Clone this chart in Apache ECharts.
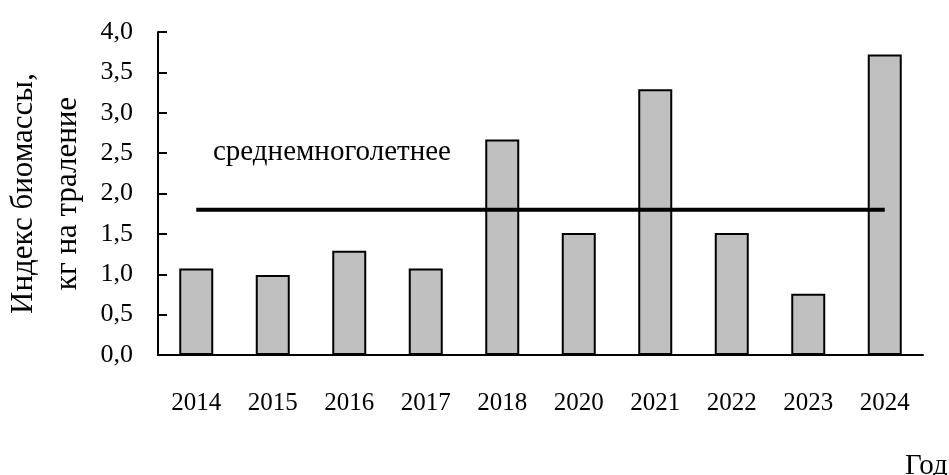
<!DOCTYPE html>
<html>
<head>
<meta charset="utf-8">
<script src="https://cdn.jsdelivr.net/npm/echarts@6/dist/echarts.min.js"></script>
<style>
  html, body { margin: 0; padding: 0; background: #fff; }
  #chart { width: 949px; height: 475px; }
</style>
</head>
<body>
<div id="chart"></div>
<script>
var years = ['2014', '2015', '2016', '2017', '2018', '2020', '2021', '2022', '2023', '2024'];
var biomass = [1.07, 0.99, 1.29, 1.07, 2.67, 1.51, 3.29, 1.51, 0.76, 3.72];
var longTermMean = [1.8, 1.8, 1.8, 1.8, 1.8, 1.8, 1.8, 1.8, 1.8, 1.8];
var yTicks = [0, 0.5, 1, 1.5, 2, 2.5, 3, 3.5, 4];

var font = '"Liberation Serif", "Times New Roman", serif';

var option = {
    animation: false,
    grid: { left: 158, right: 26, top: 32, bottom: 120, containLabel: false, outerBoundsMode: 'none' },
    xAxis: {
        type: 'category',
        data: years,
        axisLine: { lineStyle: { color: '#000', width: 2 } },
        axisTick: { inside: true, length: 8, lineStyle: { color: '#000', width: 2 } },
        axisLabel: { color: '#000', fontFamily: font, fontSize: 25, margin: 36 }
    },
    yAxis: {
        type: 'value',
        min: yTicks[0],
        max: yTicks[yTicks.length - 1],
        interval: 0.5,
        name: 'Индекс биомассы,\nкг на траление',
        nameLocation: 'middle',
        nameGap: 66,
        nameTextStyle: { color: '#000', fontFamily: font, fontSize: 31, lineHeight: 44 },
        axisLine: { show: true, lineStyle: { color: '#000', width: 2 } },
        axisTick: { show: true, inside: true, length: 9, lineStyle: { color: '#000', width: 2 } },
        splitLine: { show: false },
        axisLabel: {
            color: '#000', fontFamily: font, fontSize: 26, margin: 25,
            formatter: function (v) { return v.toFixed(1).replace('.', ','); }
        }
    },
    series: [
        {
            name: 'biomass',
            type: 'bar',
            data: biomass,
            barWidth: 34,
            itemStyle: { color: '#c0c0c0', borderColor: '#000', borderWidth: 2 }
        },
        {
            name: 'mean',
            type: 'line',
            data: longTermMean,
            symbol: 'none',
            z: 5,
            lineStyle: { color: '#000', width: 4 }
        }
    ],
    graphic: [
        {
            type: 'text',
            left: 213,
            top: 138,
            style: { text: 'среднемноголетнее', fill: '#000', font: '29px ' + font }
        },
        {
            type: 'text',
            left: 905,
            top: 452,
            style: { text: 'Год', fill: '#000', font: '29px ' + font }
        }
    ]
};

var myChart = echarts.init(document.getElementById('chart'));
myChart.setOption(option);
</script>
</body>
</html>
